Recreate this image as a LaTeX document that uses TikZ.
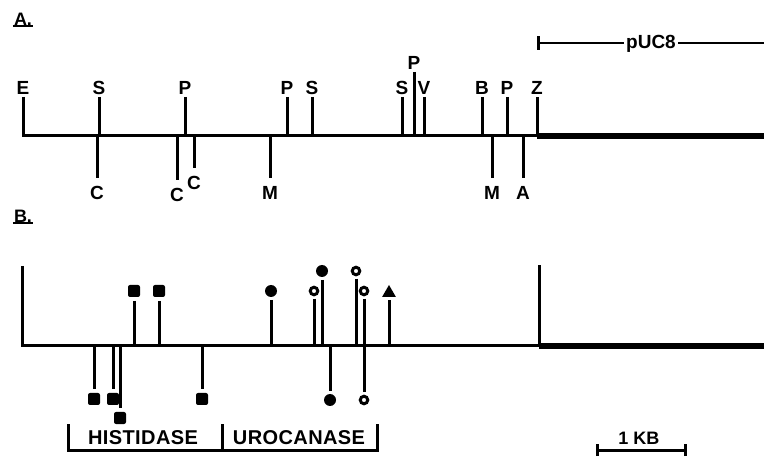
\documentclass[tikz,border=0pt]{standalone}
\usepackage{fontspec}
\setmainfont{Liberation Sans}
\newfontfamily\espace[LetterSpace=2.0]{Liberation Sans}
\usetikzlibrary{shapes.geometric}

\begin{document}
\begin{tikzpicture}[x=1pt,y=-1pt]
        \tikzstyle {site} = [font=\fontsize{19}{21}\selectfont\bfseries, inner xsep=0pt, inner ysep=2pt]
        \tikzstyle {siteup} = [site, anchor=south]
        \tikzstyle {sitedown} = [site, anchor=north, inner ysep=8pt]
        \tikzstyle {trait} = [line width=3pt]
        \tikzstyle {vecteur} = [line width=5.5pt]
        \tikzstyle {carre} = [rectangle, rounded corners=2pt, minimum size=12pt, inner sep=0pt, fill=black, outer sep=4pt]
        \tikzstyle {rond} = [circle, minimum size=12pt, inner sep=0pt, fill=black, outer sep=3pt]
        \tikzstyle {anneau} = [circle, minimum size=7.5pt, inner sep=0pt, draw=black, line width=3pt, outer sep=4pt]
        \tikzstyle {triangle} = [regular polygon, regular polygon sides=3, minimum size=16pt, inner sep=0pt, fill=black, outer sep=3pt]
        \tikzstyle {titre} = [font=\fontsize{18}{20}\selectfont\bfseries, inner sep=1pt]
        \tikzstyle {gene} = [font=\fontsize{20}{22}\selectfont\bfseries\espace, inner sep=1pt]
        \useasboundingbox (0,0) rectangle (764,457);

        % Carte A
        \node (titreA) [titre] at (23,19) {A.};
        \draw[line width=2pt] (titreA.south west) -- (titreA.south east);
        \coordinate (baseA) at (23,136);
        \coordinate (finA) at (764,136);
        \node (e) [siteup] at (23,97) {E};
        \node (s1) [siteup] at (99,97) {S};
        \node (p1) [siteup] at (185,97) {P};
        \node (p2) [siteup] at (287,97) {P};
        \node (s2) [siteup] at (312,97) {S};
        \node (s3) [siteup] at (402,97) {S};
        \node (p3) [siteup] at (414,72) {P};
        \node (v) [siteup] at (424,97) {V};
        \node (b) [siteup] at (482,97) {B};
        \node (p4) [siteup] at (507,97) {P};
        \node (z) [siteup] at (537,97) {Z};
        \coordinate (zpied) at (z.south |- baseA);
        \draw[trait] (e.south) |- (zpied) -- (z.south);
        \draw[vecteur] (zpied) -- (finA);
        \draw[trait] (s1.south) -- (s1.south |- baseA);
        \draw[trait] (p1.south) -- (p1.south |- baseA);
        \draw[trait] (p2.south) -- (p2.south |- baseA);
        \draw[trait] (s2.south) -- (s2.south |- baseA);
        \draw[trait] (s3.south) -- (s3.south |- baseA);
        \draw[trait] (p3.south) -- (p3.south |- baseA);
        \draw[trait] (v.south) -- (v.south |- baseA);
        \draw[trait] (b.south) -- (b.south |- baseA);
        \draw[trait] (p4.south) -- (p4.south |- baseA);
        \node (c1) [sitedown] at (97,178) {C};
        \node (c2) [sitedown] at (177,180) {C};
        \node (c3) [sitedown] at (194,168) {C};
        \node (m1) [sitedown] at (270,178) {M};
        \node (m2) [sitedown] at (492,178) {M};
        \node (a) [sitedown] at (523,178) {A};
        \draw[trait] (c1.north) -- (c1.north |- baseA);
        \draw[trait] (c2.north) -- (c2.north |- baseA);
        \draw[trait] (c3.north) -- (c3.north |- baseA);
        \draw[trait] (m1.north) -- (m1.north |- baseA);
        \draw[trait] (m2.north) -- (m2.north |- baseA);
        \draw[trait] (a.north) -- (a.north |- baseA);
        % pUC8
        \node (puc) [font=\fontsize{19}{21}\selectfont\bfseries, inner xsep=2pt] at (651,44) {pUC8};
        \coordinate (pucG) at (538,43);
        \coordinate (pucD) at (764,43);
        \draw[trait] ([yshift=-7pt]pucG) -- ([yshift=7pt]pucG);
        \draw[line width=2pt] (pucG) -- (puc.west |- pucG);
        \draw[line width=2pt] (puc.east |- pucD) -- (pucD);

        % Carte B
        \node (titreB) [titre] at (23,216) {B.};
        \draw[line width=2pt] (titreB.south west) -- (titreB.south east);
        \coordinate (hautG) at (22,266);
        \coordinate (baseB) at (22,346);
        \coordinate (piedD) at (539,346);
        \coordinate (hautD) at (539,265);
        \coordinate (finB) at (764,346);
        \draw[trait] (hautG) -- (baseB) -- (piedD) -- (hautD);
        \draw[vecteur] (piedD) -- (finB);
        % marqueurs au-dessus
        \node (h1) [carre] at (134,291) {};
        \node (h2) [carre] at (159,291) {};
        \node (u1) [rond] at (271,291) {};
        \node (u2) [anneau] at (314,291) {};
        \node (u3) [rond] at (322,271) {};
        \node (u4) [anneau] at (356,271) {};
        \node (u5) [anneau] at (364,291) {};
        \node (t1) [triangle] at (389,293) {};
        \draw[trait] (h1.south) -- (h1.south |- baseB);
        \draw[trait] (h2.south) -- (h2.south |- baseB);
        \draw[trait] (u1.south) -- (u1.south |- baseB);
        \draw[trait] (u2.south) -- (u2.south |- baseB);
        \draw[trait] (u3.south) -- (u3.south |- baseB);
        \draw[trait] (u4.south) -- (u4.south |- baseB);
        \draw[trait] (u5.south) -- (u5.south |- baseB);
        \draw[trait] (t1.south) -- (t1.south |- baseB);
        % marqueurs en dessous
        \node (h3) [carre] at (94,399) {};
        \node (h4) [carre] at (113,399) {};
        \node (h5) [carre] at (120,418) {};
        \node (h6) [carre] at (202,399) {};
        \node (u6) [rond] at (330,400) {};
        \node (u7) [anneau] at (364,400) {};
        \draw[trait] (h3.north) -- (h3.north |- baseB);
        \draw[trait] (h4.north) -- (h4.north |- baseB);
        \draw[trait] (h5.north) -- (h5.north |- baseB);
        \draw[trait] (h6.north) -- (h6.north |- baseB);
        \draw[trait] (u6.north) -- (u6.north |- baseB);
        \draw[trait] (u7.north) -- (u7.north |- baseB);
        % Genes
        \coordinate (accG) at (68,424);
        \coordinate (accM) at (222,424);
        \coordinate (accD) at (377,424);
        \draw[trait] (accG) -- ++(0,26) -| (accD);
        \draw[trait] (accM) -- ++(0,26);
        \node (histidase) [gene] at (143,438) {HISTIDASE};
        \node (urocanase) [gene] at (299,438) {UROCANASE};
        % Echelle
        \coordinate (kbG) at (597,450);
        \coordinate (kbD) at (685,450);
        \draw[trait] (kbG) -- (kbD);
        \draw[trait] ([yshift=-6pt]kbG) -- ([yshift=6pt]kbG);
        \draw[trait] ([yshift=-6pt]kbD) -- ([yshift=6pt]kbD);
        \node (kb) [font=\fontsize{18}{20}\selectfont\bfseries] at (639,438) {1 KB};
\end{tikzpicture}
\end{document}
